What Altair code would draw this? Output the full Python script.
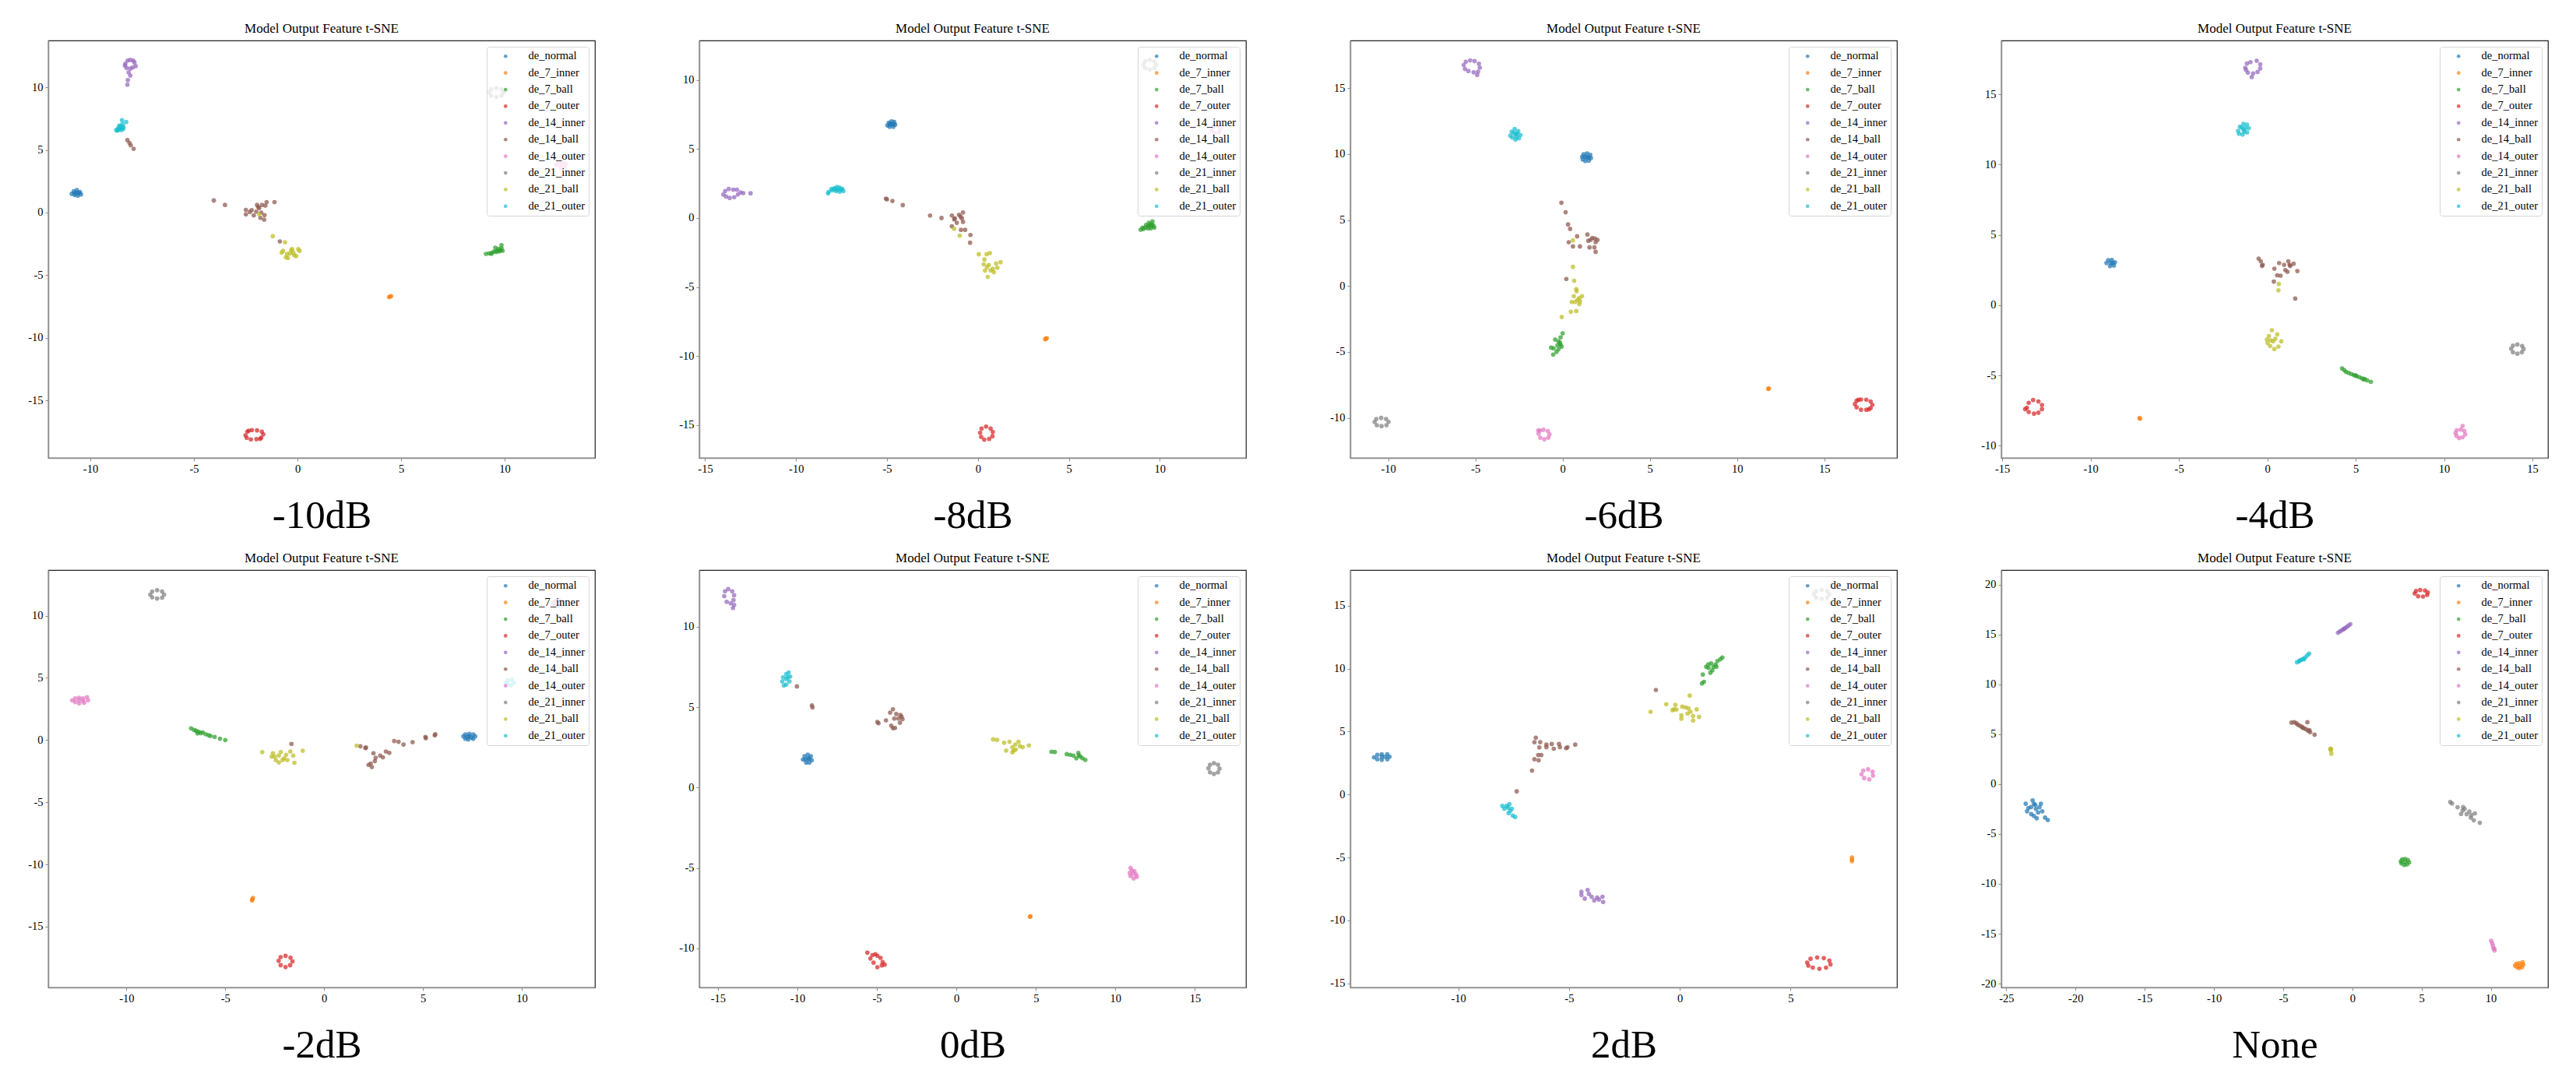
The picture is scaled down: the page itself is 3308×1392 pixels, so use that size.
import altair as alt
import pandas as pd

CATS = ["de_normal", "de_7_inner", "de_7_ball", "de_7_outer", "de_14_inner",
        "de_14_ball", "de_14_outer", "de_21_inner", "de_21_ball", "de_21_outer"]
COLORS = ["#1f77b4", "#ff7f0e", "#2ca02c", "#d62728", "#9467bd",
          "#8c564b", "#e377c2", "#7f7f7f", "#bcbd22", "#17becf"]
PANEL_LABELS = ["-10dB", "-8dB", "-6dB", "-4dB", "-2dB", "0dB", "2dB", "None"]
X_DOMAINS = [[-12.03, 14.36], [-15.32, 14.74], [-12.17, 19.16], [-15.05, 15.88],
             [-13.96, 13.71], [-16.17, 18.21], [-14.87, 9.8], [-25.36, 14.13]]
Y_DOMAINS = [[-19.6, 13.75], [-17.37, 12.85], [-13.03, 18.61], [-10.87, 18.84],
             [-19.89, 13.67], [-12.42, 13.52], [-15.33, 17.83], [-20.38, 21.45]]
TICK_STEPS = [-25, -20, -15, -10, -5, 0, 5, 10, 15, 20]

P_M10 = {
    "de_normal": [(-10.9, 1.5), (-10.8, 1.7), (-10.65, 1.8), (-10.5, 1.65), (-10.45, 1.45),
                  (-10.6, 1.35), (-10.75, 1.4), (-10.65, 1.58), (-10.75, 1.55), (-10.55, 1.55)],
    "de_7_inner": [(4.47, -6.71), (4.42, -6.75), (4.52, -6.68)],
    "de_7_ball": [(9.1, -3.3), (9.25, -3.25), (9.4, -3.2), (9.5, -3.1), (9.65, -3.05), (9.8, -3.0),
                  (9.9, -3.05), (9.85, -2.85), (9.7, -2.9), (9.85, -2.6), (9.55, -2.8), (9.35, -3.3),
                  (9.6, -3.15), (9.75, -3.1)],
    "de_7_outer": [(-2.51, -17.8), (-2.42, -17.5), (-2.2, -17.38), (-1.95, -17.4), (-1.72, -17.5),
                   (-1.65, -17.72), (-1.75, -17.98), (-1.98, -18.1), (-2.25, -18.12), (-2.45, -18.0),
                   (-2.35, -17.42), (-1.8, -18.08)],
    "de_14_inner": [(-8.31, 11.9), (-8.2, 12.15), (-8.07, 12.2), (-7.93, 12.15), (-7.87, 12.0),
                    (-7.81, 11.7), (-7.95, 11.6), (-8.07, 11.5), (-8.25, 11.55), (-8.33, 11.75),
                    (-8.15, 11.2), (-8.07, 10.95), (-8.19, 10.58), (-8.21, 10.22)],
    "de_14_ball": [(-4.04, 0.97), (-3.5, 0.61), (-2.49, 0.22), (-2.49, -0.14), (-2.21, 0.2),
                   (-2.11, -0.22), (-1.95, 0.61), (-1.85, 0.36), (-1.71, 0.61), (-1.55, 0.56),
                   (-1.49, 0.84), (-1.11, 0.84), (-1.75, 0.0), (-1.59, -0.2), (-1.79, -0.42),
                   (-1.61, -0.56), (-1.99, 0.08), (-8.21, 5.79), (-8.11, 5.57), (-8.05, 5.38),
                   (-7.91, 5.1), (-0.85, -2.31), (-1.9, 0.45), (-2.3, 0.05)],
    "de_14_outer": [(12.5, 3.8), (12.6, 4.0), (12.8, 4.05), (12.95, 3.9), (12.9, 3.65),
                    (12.7, 3.6), (12.75, 3.8)],
    "de_21_inner": [(9.25, 9.6), (9.35, 9.85), (9.6, 9.95), (9.85, 9.85), (9.95, 9.6),
                    (9.85, 9.35), (9.6, 9.25), (9.35, 9.35)],
    "de_21_ball": [(-0.7, -3.06), (-0.56, -3.57), (-0.26, -2.92), (0.04, -2.92), (0.1, -3.06),
                   (-0.16, -3.4), (-0.36, -3.26), (-0.6, -2.37), (-1.19, -1.89), (-0.76, -3.2),
                   (-0.06, -3.48), (-0.46, -3.62), (-1.85, -0.14), (-0.3, -3.0), (-0.5, -3.3),
                   (-0.2, -3.2)],
    "de_21_outer": [(-8.75, 6.6), (-8.65, 6.75), (-8.55, 6.9), (-8.45, 7.05), (-8.47, 7.38),
                    (-8.27, 7.24), (-8.71, 6.55), (-8.41, 6.69), (-8.6, 6.7), (-8.5, 6.6),
                    (-8.4, 6.85), (-8.6, 6.95), (-8.5, 6.8), (-8.65, 6.6)],
}

P_M8 = {
    "de_normal": [(-4.98, 6.7), (-4.9, 6.9), (-4.75, 7.0), (-4.6, 6.95), (-4.55, 6.75),
                  (-4.65, 6.6), (-4.85, 6.6), (-4.76, 6.8), (-4.85, 6.78), (-4.65, 6.8)],
    "de_7_inner": [(3.74, -8.74), (3.7, -8.78), (3.79, -8.7)],
    "de_7_ball": [(8.95, -0.85), (9.1, -0.8), (9.2, -0.7), (9.35, -0.6), (9.45, -0.5), (9.55, -0.45),
                  (9.65, -0.55), (9.7, -0.7), (9.5, -0.75), (9.6, -0.25), (9.4, -0.35), (9.25, -0.5),
                  (9.05, -0.7), (9.35, -0.75), (9.55, -0.6)],
    "de_7_outer": [(0.12, -15.55), (0.2, -15.25), (0.45, -15.1), (0.7, -15.25), (0.82, -15.5),
                   (0.8, -15.8), (0.62, -16.0), (0.35, -16.05), (0.18, -15.85)],
    "de_14_inner": [(-14.0, 1.7), (-13.9, 1.95), (-13.7, 2.1), (-13.45, 2.05), (-13.25, 2.05),
                    (-13.05, 1.85), (-13.2, 1.7), (-13.4, 1.5), (-13.65, 1.45), (-13.85, 1.55),
                    (-12.9, 1.8), (-12.5, 1.79)],
    "de_14_ball": [(-5.06, 1.4), (-5.0, 1.35), (-4.7, 1.23), (-4.13, 0.93), (-2.63, 0.18),
                   (-2.0, 0.0), (-1.43, 0.18), (-1.27, -0.03), (-1.04, 0.23), (-0.82, 0.4),
                   (-0.88, -0.03), (-1.16, -0.35), (-1.43, -0.6), (-0.93, -0.86), (-0.7, -0.86),
                   (-0.41, -1.23), (-0.43, -1.79), (-0.82, -0.28), (-1.3, -0.1), (-0.95, 0.1)],
    "de_14_outer": [(12.85, 6.35), (12.95, 6.6), (13.2, 6.65), (13.35, 6.45), (13.25, 6.2),
                    (13.0, 6.15)],
    "de_21_inner": [(9.1, 11.1), (9.2, 11.35), (9.45, 11.45), (9.7, 11.35), (9.8, 11.1),
                    (9.7, 10.85), (9.45, 10.75), (9.2, 10.85)],
    "de_21_ball": [(0.05, -2.62), (0.66, -2.54), (0.48, -2.62), (0.36, -3.0), (0.32, -3.35),
                   (0.5, -3.55), (0.39, -3.8), (0.82, -3.68), (1.0, -3.3), (1.25, -3.2),
                   (0.88, -3.93), (0.54, -4.26), (0.7, -3.8), (1.07, -3.6), (-1.31, -0.78),
                   (-1.0, -1.28), (0.6, -3.4)],
    "de_21_outer": [(-8.2, 1.9), (-8.24, 1.78), (-8.0, 2.0), (-7.9, 2.15), (-7.75, 2.25),
                    (-7.6, 2.2), (-7.45, 2.1), (-7.4, 1.95), (-7.6, 1.9), (-7.8, 1.95),
                    (-7.7, 2.05), (-8.05, 2.1), (-7.55, 2.05), (-7.85, 2.1)],
}

P_M6 = {
    "de_normal": [(1.12, 9.8), (1.2, 9.98), (1.4, 10.05), (1.58, 9.95), (1.62, 9.7),
                  (1.5, 9.5), (1.3, 9.48), (1.15, 9.6), (1.4, 9.75), (1.3, 9.8), (1.5, 9.75)],
    "de_7_inner": [(11.82, -7.76), (11.78, -7.8)],
    "de_7_ball": [(0.0, -3.59), (-0.12, -3.9), (-0.24, -4.2), (-0.43, -4.06), (-0.12, -4.46),
                  (-0.52, -4.72), (-0.24, -4.8), (-0.35, -4.99), (-0.54, -5.2), (-0.07, -4.6),
                  (-0.66, -4.67), (-0.3, -4.5), (-0.15, -4.3)],
    "de_7_outer": [(16.75, -8.95), (16.85, -8.7), (17.1, -8.6), (17.4, -8.62), (17.65, -8.75),
                   (17.75, -9.0), (17.65, -9.25), (17.4, -9.38), (17.1, -9.38), (16.85, -9.2),
                   (16.95, -8.62), (17.55, -9.35)],
    "de_14_inner": [(-5.67, 16.75), (-5.55, 17.0), (-5.3, 17.1), (-5.05, 17.05), (-4.8, 16.85),
                    (-4.75, 16.55), (-4.85, 16.25), (-5.1, 16.2), (-5.4, 16.3), (-5.6, 16.45),
                    (-4.9, 16.0)],
    "de_14_ball": [(-0.07, 6.31), (0.17, 5.59), (0.31, 4.67), (0.43, 4.33), (0.83, 3.77),
                   (0.35, 3.32), (0.59, 3.0), (0.99, 3.0), (1.42, 3.9), (1.47, 3.43), (1.7, 3.64),
                   (1.89, 3.32), (2.0, 3.5), (1.54, 2.93), (1.89, 2.59), (1.82, 2.93), (0.21, 0.53),
                   (1.6, 3.5), (1.85, 3.6)],
    "de_14_outer": [(-1.38, -11.2), (-1.3, -10.95), (-1.1, -10.9), (-0.85, -11.0), (-0.75, -11.25),
                    (-0.82, -11.5), (-1.05, -11.62), (-1.28, -11.5), (-1.4, -10.95)],
    "de_21_inner": [(-10.78, -10.3), (-10.68, -10.08), (-10.4, -10.0), (-10.12, -10.08),
                    (-9.98, -10.3), (-10.1, -10.55), (-10.38, -10.62), (-10.65, -10.55)],
    "de_21_ball": [(0.59, 1.45), (0.66, 0.4), (0.78, -0.24), (0.8, -0.4), (0.64, -0.77),
                   (0.95, -0.92), (1.11, -0.77), (0.71, -1.21), (0.95, -1.37), (0.52, -1.21),
                   (0.78, -1.9), (0.47, -1.95), (-0.05, -2.35), (0.59, 3.46), (0.99, -1.16),
                   (0.85, -1.05)],
    "de_21_outer": [(-3.0, 11.4), (-2.92, 11.7), (-2.75, 11.9), (-2.55, 11.75), (-2.42, 11.45),
                    (-2.5, 11.2), (-2.7, 11.1), (-2.88, 11.25), (-2.7, 11.5), (-2.6, 11.55),
                    (-2.8, 11.6), (-2.65, 11.3)],
}

P_M4 = {
    "de_normal": [(-9.1, 3.0), (-9.0, 3.2), (-8.8, 3.22), (-8.62, 3.05), (-8.68, 2.82),
                  (-8.9, 2.78), (-8.86, 3.0), (-8.75, 3.0)],
    "de_7_inner": [(-7.23, -8.04), (-7.2, -8.08)],
    "de_7_ball": [(4.23, -4.5), (4.35, -4.62), (4.45, -4.75), (4.6, -4.82), (4.75, -4.9),
                  (4.9, -4.98), (5.05, -5.05), (5.2, -5.12), (5.35, -5.2), (5.5, -5.25),
                  (5.65, -5.35), (5.86, -5.45), (5.0, -5.0), (5.45, -5.28)],
    "de_7_outer": [(-13.6, -7.3), (-13.5, -6.95), (-13.25, -6.75), (-12.95, -6.85), (-12.75, -7.1),
                   (-12.75, -7.4), (-12.95, -7.65), (-13.2, -7.72), (-13.5, -7.6), (-13.7, -7.4)],
    "de_14_inner": [(-1.25, 16.9), (-1.15, 17.2), (-0.95, 17.3), (-0.6, 17.4), (-0.4, 17.15),
                    (-0.4, 16.85), (-0.55, 16.6), (-0.8, 16.5), (-1.1, 16.55), (-1.2, 16.75),
                    (-0.88, 16.24)],
    "de_14_ball": [(-0.49, 3.32), (-0.37, 3.12), (-0.26, 2.87), (-0.3, 2.8), (0.4, 2.6),
                   (0.67, 3.0), (0.95, 2.87), (1.19, 3.12), (1.26, 2.87), (1.49, 2.95),
                   (1.02, 2.5), (1.14, 2.38), (1.7, 2.43), (0.56, 2.13), (0.37, 1.68),
                   (0.75, 2.1), (1.58, 0.47), (1.3, 2.8)],
    "de_14_outer": [(10.65, -9.1), (10.72, -8.9), (10.95, -8.85), (11.15, -8.95), (11.2, -9.2),
                    (11.05, -9.4), (10.85, -9.45), (10.7, -9.3), (11.05, -8.6)],
    "de_21_inner": [(13.8, -3.1), (13.9, -2.88), (14.15, -2.8), (14.42, -2.9), (14.5, -3.12),
                    (14.4, -3.35), (14.15, -3.45), (13.9, -3.35)],
    "de_21_ball": [(0.26, -1.78), (0.09, -2.2), (0.56, -2.08), (-0.02, -2.45), (0.33, -2.57),
                   (0.79, -2.57), (0.16, -2.9), (0.63, -2.95), (0.4, -3.12), (0.02, -2.7),
                   (0.65, 1.51), (0.63, 1.06), (0.45, -2.4), (0.2, -2.5)],
    "de_21_outer": [(-1.65, 12.4), (-1.55, 12.7), (-1.35, 12.9), (-1.15, 12.85), (-1.05, 12.6),
                    (-1.15, 12.3), (-1.4, 12.15), (-1.6, 12.2), (-1.35, 12.5), (-1.25, 12.6),
                    (-1.45, 12.65), (-1.3, 12.35)],
}

P_M2 = {
    "de_normal": [(7.05, 0.3), (7.15, 0.45), (7.35, 0.5), (7.55, 0.45), (7.65, 0.3), (7.55, 0.1),
                  (7.3, 0.05), (7.15, 0.1), (7.35, 0.3), (7.45, 0.2), (7.25, 0.25)],
    "de_7_inner": [(-3.63, -12.8), (-3.65, -12.9), (-3.6, -12.7)],
    "de_7_ball": [(-6.73, 0.94), (-6.58, 0.81), (-6.48, 0.75), (-6.35, 0.67), (-6.25, 0.56),
                  (-6.14, 0.61), (-6.0, 0.47), (-5.85, 0.39), (-5.75, 0.33), (-5.54, 0.25),
                  (-5.27, 0.11), (-5.0, 0.0), (-6.41, 0.53)],
    "de_7_outer": [(-2.3, -17.75), (-2.2, -17.45), (-1.95, -17.35), (-1.7, -17.5), (-1.6, -17.8),
                   (-1.72, -18.1), (-1.95, -18.25), (-2.2, -18.1)],
    "de_14_inner": [(11.6, 11.0), (11.7, 11.2), (11.9, 11.25), (12.1, 11.1), (12.05, 10.85),
                    (11.8, 10.8)],
    "de_14_ball": [(1.84, -0.5), (2.09, -0.64), (2.12, -0.6), (2.5, -1.06), (2.36, -1.89),
                   (2.42, -2.17), (2.57, -1.69), (2.61, -1.42), (2.84, -1.25), (2.98, -1.39),
                   (3.13, -0.92), (3.3, -1.03), (3.55, -0.08), (3.77, -0.14), (4.02, -0.36),
                   (4.48, -0.17), (5.13, 0.25), (5.15, 0.15), (5.63, 0.47), (5.6, 0.38),
                   (-1.65, -0.31), (2.25, -2.0)],
    "de_14_outer": [(-12.75, 3.2), (-12.6, 3.35), (-12.4, 3.4), (-12.2, 3.35), (-12.0, 3.45),
                    (-11.95, 3.2), (-12.15, 3.0), (-12.4, 2.95), (-12.6, 3.05), (-12.4, 3.2),
                    (-12.2, 3.15)],
    "de_21_inner": [(-8.8, 11.7), (-8.7, 11.95), (-8.45, 12.05), (-8.2, 11.95), (-8.1, 11.7),
                    (-8.2, 11.45), (-8.45, 11.38), (-8.7, 11.48)],
    "de_21_ball": [(-3.13, -0.97), (-2.59, -1.06), (-2.5, -1.33), (-2.29, -1.25), (-2.44, -1.61),
                   (-2.19, -0.97), (-2.02, -1.47), (-1.86, -1.61), (-1.71, -0.92), (-1.56, -1.25),
                   (-1.5, -1.83), (-1.08, -0.86), (-2.29, -1.8), (-2.65, -1.33), (-1.92, -1.19),
                   (-2.1, -1.6), (1.65, -0.45)],
    "de_21_outer": [(9.2, 4.6), (9.3, 4.8), (9.5, 4.85), (9.6, 4.6), (9.45, 4.4), (9.3, 4.45)],
}

P_0 = {
    "de_normal": [(-9.65, 1.75), (-9.55, 1.95), (-9.35, 2.05), (-9.15, 1.95), (-9.1, 1.7),
                  (-9.25, 1.55), (-9.45, 1.55), (-9.35, 1.8), (-9.5, 1.75), (-9.25, 1.8)],
    "de_7_inner": [(4.66, -8.0), (4.62, -8.03)],
    "de_7_ball": [(5.98, 2.23), (6.19, 2.21), (6.94, 2.08), (7.15, 2.04), (7.36, 1.99), (7.67, 2.15),
                  (7.8, 1.93), (7.54, 1.82), (7.93, 1.82), (8.11, 1.72), (7.7, 2.0)],
    "de_7_outer": [(-5.28, -10.41), (-5.6, -10.26), (-5.41, -10.62), (-5.21, -10.88),
                   (-4.97, -11.16), (-4.97, -10.45), (-4.77, -10.58), (-4.64, -10.84),
                   (-4.51, -11.0), (-4.69, -11.05), (-5.1, -10.35)],
    "de_14_inner": [(-14.6, 11.9), (-14.55, 12.2), (-14.35, 12.34), (-14.1, 12.2), (-13.98, 11.95),
                    (-14.02, 11.65), (-14.2, 11.45), (-14.45, 11.55), (-14.05, 11.16),
                    (-13.98, 11.35)],
    "de_14_ball": [(-10.03, 6.29), (-9.09, 5.11), (-9.05, 4.98), (-4.97, 4.08), (-4.9, 4.0),
                   (-4.43, 4.18), (-4.17, 4.66), (-3.99, 4.87), (-3.78, 4.57), (-3.65, 4.29),
                   (-3.52, 4.51), (-3.39, 4.25), (-3.45, 4.4), (-3.91, 4.29), (-3.55, 4.03),
                   (-3.99, 3.69), (-3.86, 3.71), (-4.1, 3.85)],
    "de_14_outer": [(10.95, -5.0), (11.05, -5.15), (11.2, -5.2), (11.3, -5.4), (11.35, -5.55),
                    (11.15, -5.65), (10.95, -5.5), (10.9, -5.3), (11.1, -5.35)],
    "de_21_inner": [(15.85, 1.2), (15.95, 1.42), (16.2, 1.52), (16.45, 1.42), (16.55, 1.18),
                    (16.45, 0.95), (16.2, 0.85), (15.95, 0.95)],
    "de_21_ball": [(2.31, 3.0), (2.56, 2.96), (3.0, 2.79), (3.34, 2.85), (3.52, 2.51), (3.7, 2.68),
                   (3.91, 2.85), (3.99, 2.58), (4.17, 2.51), (4.56, 2.62), (3.13, 2.3),
                   (3.52, 2.19), (3.73, 2.36), (3.6, 2.3)],
    "de_21_outer": [(-10.95, 6.6), (-10.9, 6.85), (-10.7, 7.05), (-10.55, 7.15), (-10.45, 6.9),
                    (-10.5, 6.6), (-10.7, 6.4), (-10.85, 6.35), (-10.7, 6.75), (-10.6, 6.85)],
}

P_2 = {
    "de_normal": [(-13.8, 2.95), (-13.65, 3.15), (-13.45, 3.2), (-13.2, 3.2), (-13.1, 3.0),
                  (-13.2, 2.8), (-13.45, 2.75), (-13.65, 2.8), (-13.45, 3.0), (-13.3, 3.0)],
    "de_7_inner": [(7.77, -5.0), (7.77, -5.16), (7.77, -5.3)],
    "de_7_ball": [(1.0, 8.82), (1.09, 8.95), (1.04, 9.53), (1.19, 10.14), (1.28, 10.33),
                  (1.41, 10.41), (1.52, 10.14), (1.61, 10.33), (1.7, 10.6), (1.83, 10.74),
                  (1.92, 10.88), (1.38, 9.67), (1.47, 9.86), (1.65, 10.14), (1.3, 10.05)],
    "de_7_outer": [(5.75, -13.35), (5.9, -13.05), (6.2, -12.95), (6.5, -13.0), (6.75, -13.2),
                   (6.8, -13.5), (6.6, -13.75), (6.3, -13.85), (6.0, -13.75), (5.8, -13.6)],
    "de_14_inner": [(-4.44, -7.72), (-4.16, -7.58), (-3.98, -8.13), (-3.73, -8.19), (-3.49, -8.13),
                    (-3.46, -8.54), (-4.29, -8.27), (-4.44, -7.99), (-3.86, -8.41),
                    (-3.65, -8.35), (-4.1, -7.9)],
    "de_14_ball": [(-6.5, 4.51), (-6.56, 4.15), (-6.3, 4.15), (-6.02, 3.96), (-6.02, 3.76),
                   (-5.78, 4.01), (-5.69, 3.63), (-5.45, 4.01), (-5.41, 3.76), (-5.13, 3.68),
                   (-5.07, 3.75), (-4.72, 3.96), (-6.34, 3.74), (-6.39, 3.13), (-6.25, 3.13),
                   (-6.56, 2.8), (-6.37, 2.72), (-6.67, 1.9), (-7.36, 0.25), (-1.08, 8.3)],
    "de_14_outer": [(8.2, 1.6), (8.28, 1.9), (8.5, 2.0), (8.7, 1.8), (8.72, 1.5), (8.55, 1.2),
                    (8.32, 1.3)],
    "de_21_inner": [(6.05, 15.9), (6.15, 16.15), (6.4, 16.25), (6.65, 16.15), (6.75, 15.9),
                    (6.65, 15.65), (6.4, 15.55), (6.15, 15.65)],
    "de_21_ball": [(-1.32, 6.57), (-0.61, 7.17), (-0.26, 6.76), (-0.2, 7.12), (0.11, 6.98),
                   (0.26, 6.92), (0.39, 6.84), (0.45, 7.86), (0.48, 6.57), (0.07, 6.29),
                   (0.07, 6.02), (0.35, 6.43), (0.6, 6.24), (0.6, 5.88), (0.76, 6.76),
                   (0.87, 6.16), (-0.15, 6.75), (-0.33, 6.7)],
    "de_21_outer": [(-8.01, -0.91), (-7.82, -0.91), (-7.69, -0.77), (-7.58, -1.13), (-7.73, -1.48),
                    (-7.54, -1.68), (-7.43, -1.79), (-7.92, -1.13), (-7.65, -1.3), (-7.75, -1.05)],
}

P_NONE = {
    "de_normal": [(-23.6, -1.97), (-23.1, -1.63), (-23.0, -1.97), (-23.4, -2.39), (-23.5, -2.73),
                  (-23.2, -3.01), (-22.7, -2.84), (-22.5, -1.97), (-22.4, -2.73), (-22.8, -3.43),
                  (-22.2, -3.36), (-22.0, -3.6), (-23.2, -2.3), (-22.86, -2.49), (-22.6, -2.32),
                  (-22.9, -2.1), (-23.0, -3.2)],
    "de_7_inner": [(11.75, -18.2), (11.85, -18.0), (12.05, -17.95), (12.3, -17.85), (12.35, -18.1),
                   (12.25, -18.35), (12.05, -18.45), (11.9, -18.35), (12.1, -18.2)],
    "de_7_ball": [(3.5, -7.75), (3.6, -7.55), (3.8, -7.5), (4.0, -7.6), (4.1, -7.85), (3.95, -8.05),
                  (3.75, -8.1), (3.55, -7.95), (3.8, -7.8)],
    "de_7_outer": [(4.5, 19.1), (4.6, 19.35), (4.9, 19.45), (5.25, 19.4), (5.45, 19.2),
                   (5.4, 18.95), (5.1, 18.8), (4.75, 18.82)],
    "de_14_inner": [(-1.04, 15.16), (-0.9, 15.3), (-0.78, 15.4), (-0.65, 15.52), (-0.52, 15.63),
                    (-0.4, 15.75), (-0.28, 15.88), (-0.15, 16.02), (-0.6, 15.55)],
    "de_14_ball": [(-4.4, 6.16), (-4.2, 6.2), (-4.05, 6.1), (-3.95, 5.95), (-3.8, 5.85),
                   (-3.65, 5.75), (-3.5, 5.6), (-3.35, 5.5), (-3.2, 5.35), (-3.05, 5.2),
                   (-2.73, 4.95), (-3.25, 6.2), (-3.6, 5.65), (-3.1, 5.4)],
    "de_14_outer": [(10.03, -15.71), (10.1, -15.95), (10.15, -16.2), (10.2, -16.45),
                    (10.27, -16.68), (10.25, -16.5)],
    "de_21_inner": [(7.07, -1.8), (7.2, -1.95), (7.6, -2.32), (7.96, -2.66), (8.26, -3.01),
                    (8.56, -3.36), (8.85, -2.94), (8.77, -3.63), (9.21, -3.88), (8.11, -2.49),
                    (7.85, -3.0), (8.45, -2.75), (8.0, -2.3), (8.6, -3.1)],
    "de_21_ball": [(-1.55, 3.56), (-1.55, 3.4), (-1.52, 3.04), (-1.6, 3.5)],
    "de_21_outer": [(-4.0, 12.21), (-3.85, 12.3), (-3.7, 12.45), (-3.55, 12.55), (-3.4, 12.7),
                    (-3.25, 12.9), (-3.12, 13.08), (-3.8, 12.4), (-3.5, 12.5)],
}

PANELS = [P_M10, P_M8, P_M6, P_M4, P_M2, P_0, P_2, P_NONE]

SERIF = "Liberation Serif"
FIX_MINUS = "replace(datum.label, '\u2212', '-')"
AXIS_GRAY = "#8c8c8c"


def panel(points, label, xd, yd):
    rows = [{"x": x, "y": y, "cls": c} for c in CATS for (x, y) in points[c]]
    df = pd.DataFrame(rows)
    xt = [v for v in TICK_STEPS if xd[0] <= v <= xd[1]]
    yt = [v for v in TICK_STEPS if yd[0] <= v <= yd[1]]
    common = dict(grid=False, domainColor=AXIS_GRAY, domainWidth=1.5, tickColor=AXIS_GRAY,
                  tickSize=4, labelFont=SERIF, labelFontSize=14.5, labelColor="black",
                  labelPadding=3, labelExpr=FIX_MINUS)
    return alt.Chart(
        df,
        title=alt.TitleParams("Model Output Feature t-SNE", font=SERIF, fontSize=17,
                              fontWeight="normal", color="black", offset=6, anchor="middle"),
    ).mark_circle(size=32, opacity=0.72).encode(
        x=alt.X("x:Q", scale=alt.Scale(domain=xd, nice=False, zero=False),
                axis=alt.Axis(values=xt, title=label,
                              titleFontSize=51, titleFont=SERIF, titleFontWeight="normal",
                              titleColor="black", titlePadding=69, titleBaseline="alphabetic",
                              **common)),
        y=alt.Y("y:Q", scale=alt.Scale(domain=yd, nice=False, zero=False),
                axis=alt.Axis(values=yt, title=None, **common)),
        color=alt.Color("cls:N", scale=alt.Scale(domain=CATS, range=COLORS),
                        legend=alt.Legend(
                            title=None, orient="top-right", labelFont=SERIF, labelFontSize=14.5,
                            labelColor="black", symbolType="circle", symbolSize=22,
                            symbolOpacity=0.7, symbolStrokeWidth=0, offset=8, padding=5,
                            rowPadding=6.4, symbolOffset=12, labelOffset=22,
                            fillColor="rgba(255,255,255,0.8)", strokeColor="#d6d6d6",
                            cornerRadius=3)),
    ).properties(width=702, height=536)


charts = [panel(PANELS[i], PANEL_LABELS[i], X_DOMAINS[i], Y_DOMAINS[i]) for i in range(8)]

chart = alt.concat(
    *charts, columns=4, spacing={"row": 144, "column": 134}, bounds="flush"
).resolve_scale(
    x="independent", y="independent"
).resolve_legend(
    color="independent"
).properties(
    padding={"left": 27, "top": 19, "right": 5, "bottom": 5}, background="white"
).configure_view(
    stroke="#222222", strokeWidth=1.2
)

chart.save("out.html", embed_options={"renderer": "svg", "actions": False})
